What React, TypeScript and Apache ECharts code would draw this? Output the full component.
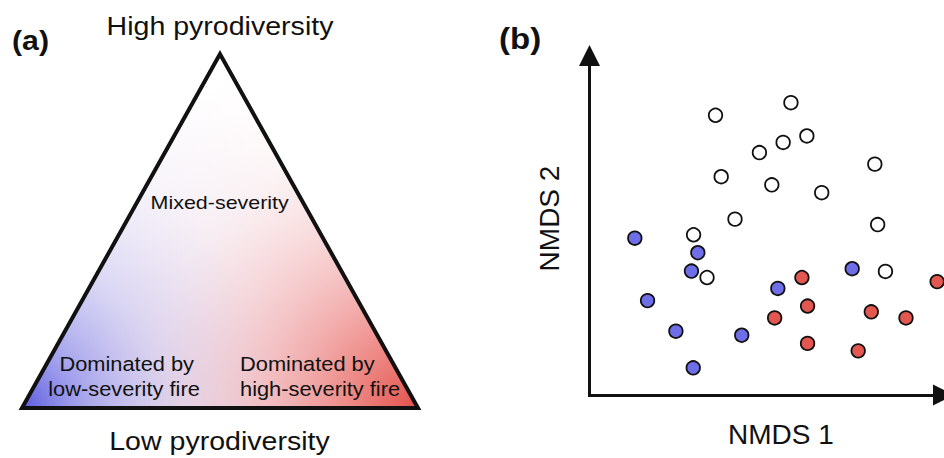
import React, { useEffect, useRef } from "react";
import * as echarts from "echarts";

// NMDS ordination scores (arbitrary units, 0-100 on both axes)
const seriesNames = ["Mixed-severity", "Low-severity", "High-severity"];
const mixedSeverityPoints: number[][] = [
  [35.6, 82.4], [56.9, 86.1], [61.4, 76.3], [54.7, 74.4], [48.0, 71.4],
  [80.6, 68.0], [37.2, 64.3], [51.5, 61.9], [65.6, 59.6], [41.1, 51.8],
  [81.4, 50.2], [29.4, 47.2], [33.2, 34.6], [83.6, 36.4],
];
const lowSeverityPoints: number[][] = [
  [12.8, 46.2], [30.6, 41.9], [28.8, 36.5], [74.2, 37.2], [53.2, 31.4],
  [16.4, 27.8], [24.4, 18.8], [43.0, 17.6], [29.3, 8.0],
];
const highSeverityPoints: number[][] = [
  [60.0, 34.6], [98.2, 33.4], [61.6, 26.2], [79.6, 24.5], [52.3, 22.7],
  [89.4, 22.7], [61.6, 15.2], [75.9, 13.0],
];
const seriesColors = ["#ffffff", "#6e6ee8", "#e2574f"];

const axisTitles = ["NMDS 1", "NMDS 2"];
const panelLabels = ["(a)", "(b)"];
const triangleTop = "High pyrodiversity";
const triangleBottom = "Low pyrodiversity";
const triangleMiddle = "Mixed-severity";
const triangleLeft = ["Dominated by", "low-severity fire"];
const triangleRight = ["Dominated by", "high-severity fire"];

const FONT = "'Liberation Sans', Arial, Helvetica, sans-serif";
const INK = "#111111";

export default function App() {
  const ref = useRef<HTMLDivElement>(null);

  useEffect(() => {
    if (!ref.current) return;
    const chart = echarts.init(ref.current, null, { renderer: "svg" });

    const tri = [
      [220, 54],
      [22, 408],
      [418, 408],
    ];
    const txt = (
      text: string,
      x: number,
      y: number,
      size: number,
      align: string,
      extra: any = {}
    ) => ({
      type: "text",
      x,
      y,
      scaleX: extra.scaleX ?? 1.12,
      rotation: extra.rotation ?? 0,
      silent: true,
      style: {
        text,
        fill: INK,
        fontSize: size,
        fontFamily: FONT,
        fontWeight: extra.bold ? "bold" : "normal",
        textAlign: align,
        align,
        textVerticalAlign: "middle",
        verticalAlign: "middle",
      },
    });

    const option: any = {
      animation: false,
      backgroundColor: "#ffffff",
      grid: { left: 589.5, top: 55.5, right: 0.5, bottom: 63, containLabel: false },
      xAxis: {
        type: "value",
        min: 0,
        max: 100,
        axisLine: {
          show: true,
          symbol: ["none", "triangle"],
          symbolSize: [21, 21],
          lineStyle: { color: INK, width: 3, cap: "square" },
        },
        axisTick: { show: false },
        axisLabel: { show: false },
        splitLine: { show: false },
      },
      yAxis: {
        type: "value",
        min: 0,
        max: 100,
        axisLine: {
          show: true,
          symbol: ["none", "triangle"],
          symbolSize: [21, 21],
          lineStyle: { color: INK, width: 3, cap: "square" },
        },
        axisTick: { show: false },
        axisLabel: { show: false },
        splitLine: { show: false },
      },
      series: [mixedSeverityPoints, lowSeverityPoints, highSeverityPoints].map((d, i) => ({
        name: seriesNames[i],
        type: "scatter",
        data: d,
        symbol: "circle",
        symbolSize: 13.5,
        clip: false,
        itemStyle: { color: seriesColors[i], borderColor: INK, borderWidth: 1.8, opacity: 1 },
      })),
      graphic: [
        {
          type: "polygon",
          silent: true,
          shape: { points: tri },
          style: { fill: "#ffffff" },
        },
        {
          type: "polygon",
          silent: true,
          shape: { points: tri },
          style: {
            fill: {
              type: "radial",
              x: 22,
              y: 408,
              r: 370,
              global: true,
              colorStops: [
                { offset: 0, color: "rgba(92,92,224,1)" },
                { offset: 0.15, color: "rgba(118,118,230,0.72)" },
                { offset: 0.4, color: "rgba(158,158,236,0.4)" },
                { offset: 0.7, color: "rgba(196,192,240,0.13)" },
                { offset: 1, color: "rgba(210,200,240,0)" },
              ],
            },
          },
        },
        {
          type: "polygon",
          silent: true,
          shape: { points: tri },
          style: {
            fill: {
              type: "radial",
              x: 418,
              y: 408,
              r: 390,
              global: true,
              colorStops: [
                { offset: 0, color: "rgba(226,80,74,1)" },
                { offset: 0.15, color: "rgba(232,102,96,0.82)" },
                { offset: 0.4, color: "rgba(238,140,140,0.5)" },
                { offset: 0.7, color: "rgba(244,192,192,0.16)" },
                { offset: 1, color: "rgba(250,220,220,0)" },
              ],
            },
          },
        },
        {
          type: "polygon",
          silent: true,
          shape: { points: tri },
          style: { fill: "none", stroke: INK, lineWidth: 4, lineJoin: "miter" },
        },
        txt(panelLabels[0], 12, 40, 27.5, "left", { bold: true, scaleX: 1.1 }),
        txt(panelLabels[1], 499, 39, 30, "left", { bold: true, scaleX: 1.1 }),
        txt(triangleTop, 220, 26.5, 25.5, "center"),
        txt(triangleBottom, 219.5, 441, 25.5, "center"),
        txt(triangleMiddle, 219.7, 202.8, 18.5, "center", { scaleX: 1.16 }),
        txt(triangleLeft[0], 126.7, 364, 19.5, "center"),
        txt(triangleLeft[1], 124, 389.3, 19.5, "center"),
        txt(triangleRight[0], 240, 364, 19.5, "left"),
        txt(triangleRight[1], 240, 389.3, 19.5, "left"),
        txt(axisTitles[0], 780.8, 434.4, 28, "center", { scaleX: 1 }),
        txt(axisTitles[1], 549.7, 218.5, 28, "center", { scaleX: 1, rotation: Math.PI / 2 }),
      ],
    };

    chart.setOption(option);
    return () => chart.dispose();
  }, []);

  return (
    <div
      ref={ref}
      style={{ position: "fixed", left: 0, top: 0, width: 944, height: 458, background: "#ffffff" }}
    />
  );
}
